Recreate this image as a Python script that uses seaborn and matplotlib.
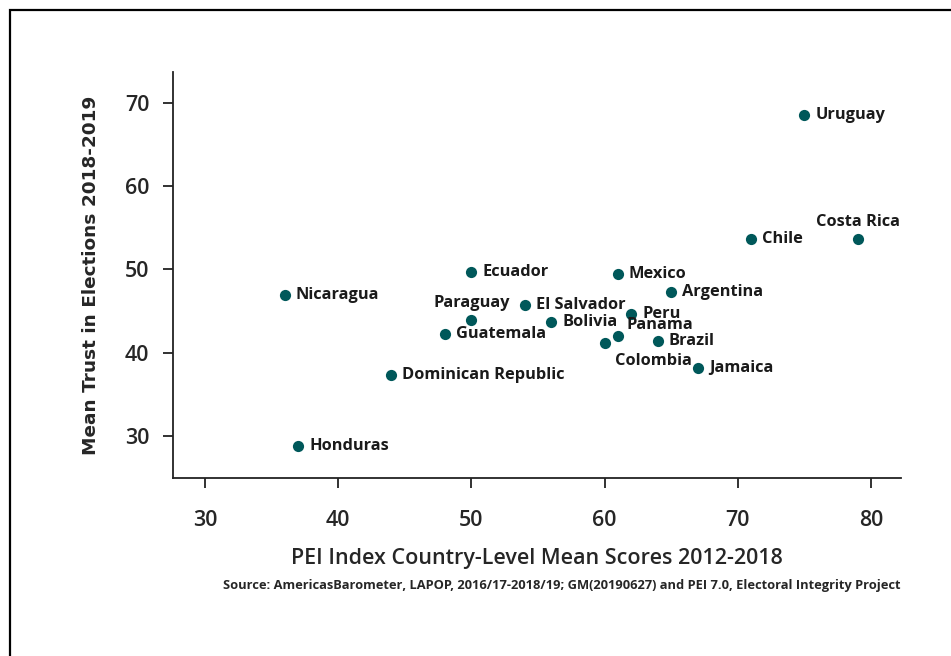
import numpy as np
import pandas as pd
import matplotlib
matplotlib.use("Agg")
import matplotlib.pyplot as plt
import seaborn as sns
from matplotlib.patches import Rectangle

countries = ["Uruguay", "Costa Rica", "Chile", "Ecuador", "Mexico", "Argentina",
             "Nicaragua", "El Salvador", "Peru", "Paraguay", "Bolivia", "Guatemala",
             "Panama", "Colombia", "Brazil", "Jamaica", "Dominican Republic", "Honduras"]
pei_score = [75, 79, 71, 50, 61, 65, 36, 54, 62, 50, 56, 48, 61, 60, 64, 67, 44, 37]
trust = [68.6, 53.7, 53.7, 49.7, 49.4, 47.3, 46.9, 45.7, 44.7, 43.9, 43.7, 42.3,
         42.0, 41.2, 41.4, 38.2, 37.3, 28.8]

# label placement tweaks (pixels offset, horizontal alignment)
label_pos = {
    "Paraguay": ((0, 17), "center"),
    "Costa Rica": ((0, 17), "center"),
    "Panama": ((9, 11), "left"),
    "Colombia": ((10, -18), "left"),
}

df = pd.DataFrame({"country": countries, "pei": pei_score, "trust": trust})

sns.set_style("ticks")
plt.rcParams["font.family"] = ["Open Sans", "DejaVu Sans"]

fig = plt.figure(figsize=(9.51, 6.56), dpi=100)
ax = fig.add_axes([0.1819, 0.2713, 0.9474 - 0.1819, 0.8902 - 0.2713])

color = "#00585a"
sns.scatterplot(data=df, x="pei", y="trust", ax=ax, color=color, s=65,
                edgecolor=color, linewidth=0, zorder=3)

for name, x, y in zip(countries, pei_score, trust):
    off, ha = label_pos.get(name, ((11, 0), "left"))
    ax.annotate(name, (x, y), xytext=off, textcoords="offset pixels",
                ha=ha, va="center", fontsize=11.8, fontweight="bold", color="#1a1a1a")

ax.set_xlim(27.6, 82.25)
ax.set_ylim(24.95, 73.7)
ax.set_xticks([30, 40, 50, 60, 70, 80])
ax.set_yticks([30, 40, 50, 60, 70])
ax.tick_params(axis="x", length=7, width=1.3, pad=16, labelsize=15.5, color="#222222")
ax.tick_params(axis="y", length=7, width=1.3, pad=10, labelsize=15.5, color="#222222")
for lab in ax.get_xticklabels() + ax.get_yticklabels():
    lab.set_fontweight("semibold")
for sp in ["left", "bottom"]:
    ax.spines[sp].set_linewidth(1.3)
    ax.spines[sp].set_color("#222222")
sns.despine(ax=ax)

ax.set_xlabel("PEI Index Country-Level Mean Scores 2012-2018", fontsize=15.5,
              fontweight="semibold", labelpad=12)
ax.set_ylabel("Mean Trust in Elections 2018-2019", fontsize=13.3, fontweight="bold",
              family="DejaVu Sans", labelpad=18)

fig.text(0.9474, 0.107, "Source: AmericasBarometer, LAPOP, 2016/17-2018/19; GM(20190627) and PEI 7.0, Electoral Integrity Project",
         ha="right", va="center", fontsize=9.3, fontweight="bold")

# outer frame (runs off the right and bottom edges)
fig.patches.append(Rectangle((9.5 / 951, -0.05), 1.2, 1 - 9.5 / 656 + 0.05,
                             transform=fig.transFigure, fill=False,
                             edgecolor="black", linewidth=1.6))

fig.savefig("out.png", dpi=100)
